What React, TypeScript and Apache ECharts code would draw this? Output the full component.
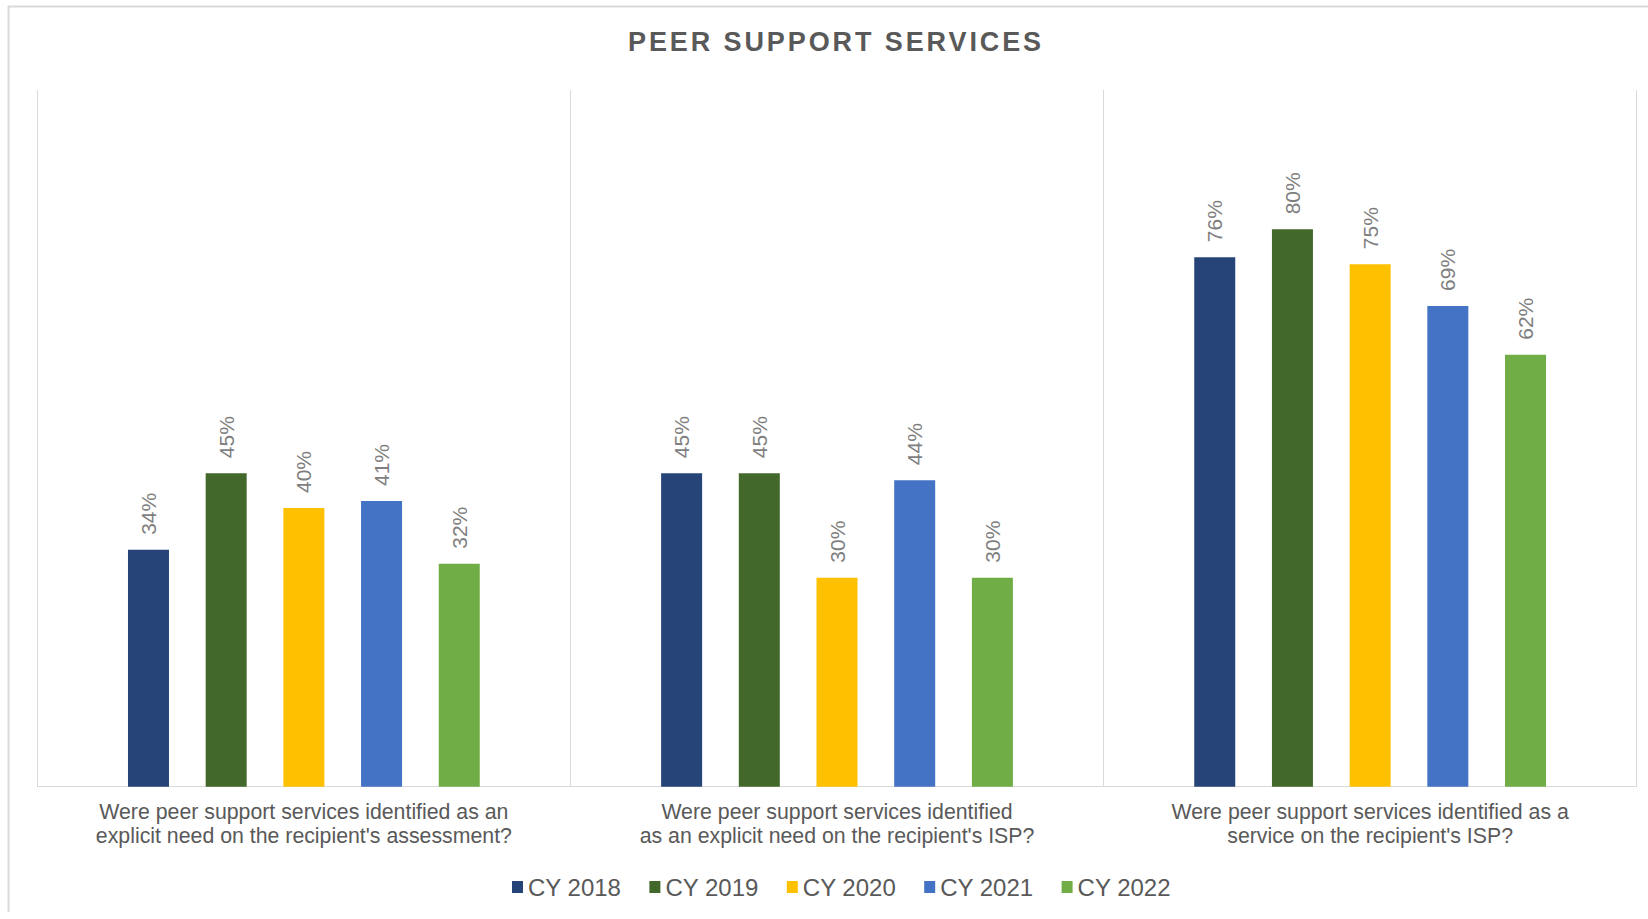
import React, { useEffect, useRef } from "react";
import * as echarts from "echarts";

const categories = [
  "Were peer support services identified as an\nexplicit need on the recipient's assessment?",
  "Were peer support services identified\nas an explicit need on the recipient's ISP?",
  "Were peer support services identified as a\nservice on the recipient's ISP?",
];
const seriesNames = ["CY 2018", "CY 2019", "CY 2020", "CY 2021", "CY 2022"];
const cy2018 = [34, 45, 76];
const cy2019 = [45, 45, 80];
const cy2020 = [40, 30, 75];
const cy2021 = [41, 44, 69];
const cy2022 = [32, 30, 62];
const seriesValues = [cy2018, cy2019, cy2020, cy2021, cy2022];
const colors = ["#264478", "#43682B", "#FFC000", "#4472C4", "#70AD47"];
const titleText = "PEER SUPPORT SERVICES";

const FONT = "Liberation Sans";

export default function App() {
  const ref = useRef<HTMLDivElement>(null);
  useEffect(() => {
    if (!ref.current) return;
    const chart = echarts.init(ref.current, undefined, { renderer: "svg" });
    chart.setOption({
      animation: false,
      backgroundColor: "#ffffff",
      graphic: [
        {
          type: "polyline",
          silent: true,
          shape: { points: [[8.5, 912], [8.5, 6.5], [1660, 6.5]] },
          style: { stroke: "#d9d9d9", lineWidth: 2, fill: null },
        },
        {
          type: "text",
          x: 836,
          y: 42,
          style: {
            text: titleText,
            align: "center",
            verticalAlign: "middle",
            fontSize: 27,
            fontWeight: "bold",
            fontFamily: FONT + ";letter-spacing:2.9px",
            fill: "#595959",
          },
        },
      ],
      legend: {
        left: 512,
        top: 875,
        padding: 0,
        itemWidth: 11,
        itemHeight: 12,
        itemGap: 28,
        icon: "rect",
        data: seriesNames,
        textStyle: { fontSize: 24, color: "#595959", fontFamily: FONT },
      },
      grid: { left: 37.3, right: 11.3, top: 90, bottom: 132.3, containLabel: false },
      xAxis: {
        type: "category",
        data: categories,
        axisTick: { show: false },
        axisLine: { lineStyle: { color: "#d9d9d9", width: 1 } },
        splitLine: { show: true, lineStyle: { color: "#d9d9d9", width: 1 } },
        axisLabel: {
          interval: 0,
          margin: 13,
          fontSize: 21.3,
          lineHeight: 24,
          color: "#595959",
          fontFamily: FONT,
        },
      },
      yAxis: {
        type: "value",
        min: 0,
        max: 100,
        show: false,
        splitLine: { show: false },
      },
      series: seriesNames.map((name, i) => ({
        name,
        type: "bar",
        data: seriesValues[i],
        barWidth: 41,
        barGap: "89.5%",
        itemStyle: { color: colors[i] },
        label: {
          show: true,
          position: "top",
          distance: 15,
          rotate: 90,
          align: "left",
          verticalAlign: "middle",
          formatter: "{c}%",
          fontSize: 21,
          color: "#7f7f7f",
          fontFamily: FONT,
        },
      })),
    });
    return () => chart.dispose();
  }, []);
  return (
    <div
      ref={ref}
      style={{ position: "fixed", left: 0, top: 0, width: 1648, height: 919 }}
    />
  );
}
